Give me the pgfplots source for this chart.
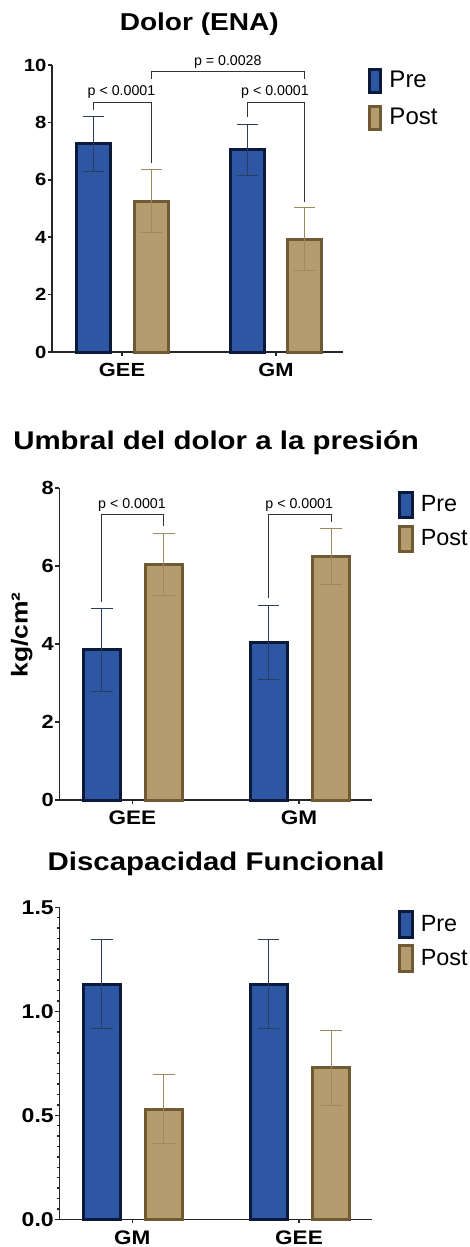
\documentclass[border=0pt]{standalone}
\usepackage{fontspec}
\setmainfont{Liberation Sans}
\newfontfamily\bfw[FakeStretch=1.15]{Liberation Sans Bold}
\usepackage{pgfplots}
\pgfplotsset{compat=1.18}
\definecolor{preF}{HTML}{2E57A3}
\definecolor{preB}{HTML}{0B1A3C}
\definecolor{postF}{HTML}{B59C6F}
\definecolor{postB}{HTML}{6F5A34}
\definecolor{preE}{HTML}{2A3C62}
\definecolor{postE}{HTML}{9E8862}
\definecolor{brk}{HTML}{333333}

\def\legW{5.5pt}\def\legH{5.75pt}\def\legS{0pt}\def\capS{5.25pt}
\pgfplotsset{
  panel/.style={
    scale only axis, clip=false,
    axis x line=bottom, axis y line=left,
    axis line style={-, line width=0.75pt, black!85},
    every tick/.style={line width=0.75pt, black!85},
    tick align=outside, major tick length=2pt, minor tick length=1pt,
    ymin=0,
    legend cell align=left,
    legend style={draw=none, fill=none, inner sep=0pt, outer sep=0pt,
      anchor=north west, column sep=3.5pt,
      nodes={inner sep=0pt}},
  },
  prebar/.style={ybar, bar shift=0pt, fill=preF, draw=preB, line width=1.5pt,
    legend image code/.code={\draw[##1] (0pt,\legS-\legH) rectangle (\legW,\legS+\legH);},
    error bars/.cd, y dir=both, y explicit,
    error bar style={line width=0.5pt, draw=preE},
    error mark options={rotate=90, mark size=\capS, line width=0.5pt, draw=preE}},
  postbar/.style={ybar, bar shift=0pt, fill=postF, draw=postB, line width=1.5pt,
    legend image code/.code={\draw[##1] (0pt,\legS-\legH) rectangle (\legW,\legS+\legH);},
    error bars/.cd, y dir=both, y explicit,
    error bar style={line width=0.5pt, draw=postE},
    error mark options={rotate=90, mark size=\capS, line width=0.5pt, draw=postE}},
}

\begin{document}
\begin{tikzpicture}
\path[use as bounding box] (0,0) rectangle (235pt,-623.5pt);

% ---------------- Panel 1 ----------------
\def\legW{5.5pt}\def\legH{5.75pt}\def\legS{0pt}\def\capS{5.25pt}
\begin{axis}[panel,
  at={(26pt,-176pt)}, anchor=south west,
  width=145.5pt, height=143.5pt,
  xmin=52, xmax=343, ymax=10,
  bar width=17pt,
  ytick={0,2,4,6,8,10}, yticklabels={0,2,4,6,8,10},
  xtick={122,276}, xticklabels={GEE,GM},
  yticklabel style={inner sep=0.6pt, font=\bfw\fontsize{8.8pt}{10pt}\selectfont},
  xticklabel style={font=\bfw\fontsize{9.5pt}{11pt}\selectfont},
  title={Dolor (ENA)},
  title style={at={(axis description cs:0.506,1)}, anchor=base, yshift=11pt,
    font=\bfw\fontsize{12.2pt}{14pt}\selectfont},
  legend style={at={(axis description cs:1.0876,0.99)}, row sep=5.5pt,
    font=\fontsize{12pt}{14pt}\selectfont},
]
\addplot[prebar] coordinates {(93.5,7.25) +- (0,0.97) (247.5,7.04) +- (0,0.88)};
\addplot[postbar] coordinates {(151.5,5.26) +- (0,1.10) (304.5,3.93) +- (0,1.10)};
\legend{Pre,Post}
\draw[brk, line width=0.5pt] (axis cs:93.5,8.43) -- (axis cs:93.5,8.70) -- (axis cs:151.5,8.70) -- (axis cs:151.5,6.57);
\draw[brk, line width=0.5pt] (axis cs:247.5,8.20) -- (axis cs:247.5,8.70) -- (axis cs:304.5,8.70) -- (axis cs:304.5,5.24);
\draw[brk, line width=0.5pt] (axis cs:151.5,9.50) -- (axis cs:151.5,9.78) -- (axis cs:304.5,9.78) -- (axis cs:304.5,9.50);
\node[anchor=base, inner sep=0pt, font=\fontsize{7.1pt}{8pt}\selectfont] at (axis cs:121.5,8.95) {p < 0.0001};
\node[anchor=base, inner sep=0pt, font=\fontsize{7.1pt}{8pt}\selectfont] at (axis cs:275,8.95) {p < 0.0001};
\node[anchor=base, inner sep=0pt, font=\fontsize{7.1pt}{8pt}\selectfont] at (axis cs:227.8,10.0) {p = 0.0028};
\end{axis}

% ---------------- Panel 2 ----------------
\def\legW{6.3pt}\def\legH{6.325pt}\def\legS{0pt}\def\capS{5.4pt}
\begin{axis}[panel,
  at={(29.65pt,-400pt)}, anchor=south west,
  width=156.2pt, height=156pt,
  xmin=59.3, xmax=371.7, ymax=8,
  bar width=18.5pt,
  ytick={0,2,4,6,8}, yticklabels={0,2,4,6,8},
  xtick={132.3,299}, xticklabels={GEE,GM},
  yticklabel style={inner sep=0.6pt, font=\bfw\fontsize{9.5pt}{11pt}\selectfont},
  xticklabel style={font=\bfw\fontsize{9.8pt}{11pt}\selectfont},
  ylabel={kg/cm²},
  ylabel style={at={(axis description cs:-0.1204,0.529)}, anchor=center,
    font=\bfw\fontsize{11.5pt}{13pt}\selectfont},
  title={Umbral del dolor a la presión},
  title style={at={(axis description cs:0.502,1)}, anchor=base, yshift=13.15pt,
    font=\bfw\fontsize{12.8pt}{15pt}\selectfont},
  legend style={at={(axis description cs:1.0848,0.992)}, row sep=2.85pt,
    font=\fontsize{11.7pt}{14pt}\selectfont},
]
\addplot[prebar] coordinates {(101.7,3.85) +- (0,1.06) (268.5,4.04) +- (0,0.96)};
\addplot[postbar] coordinates {(163.8,6.04) +- (0,0.80) (331.2,6.24) +- (0,0.71)};
\legend{Pre,Post}
\draw[brk, line width=0.5pt] (axis cs:101.7,5.08) -- (axis cs:101.7,7.32) -- (axis cs:163.8,7.32) -- (axis cs:163.8,7.03);
\draw[brk, line width=0.5pt] (axis cs:268.5,5.17) -- (axis cs:268.5,7.32) -- (axis cs:331.2,7.32) -- (axis cs:331.2,7.14);
\node[anchor=base, inner sep=0pt, font=\fontsize{7.1pt}{8pt}\selectfont] at (axis cs:132,7.48) {p < 0.0001};
\node[anchor=base, inner sep=0pt, font=\fontsize{7.1pt}{8pt}\selectfont] at (axis cs:299.2,7.48) {p < 0.0001};
\end{axis}

% ---------------- Panel 3 ----------------
\def\legW{6.3pt}\def\legH{6.325pt}\def\legS{0pt}\def\capS{5.4pt}
\begin{axis}[panel,
  at={(29.65pt,-609.65pt)}, anchor=south west,
  width=156.2pt, height=156pt,
  xmin=59.3, xmax=371.7, ymax=1.5,
  bar width=18.5pt,
  ytick={0,0.5,1,1.5}, yticklabels={0.0,0.5,1.0,1.5},
  minor y tick num=9,
  xtick={132.3,299}, xticklabels={GM,GEE},
  yticklabel style={inner sep=0.6pt, font=\bfw\fontsize{10pt}{12pt}\selectfont},
  xticklabel style={font=\bfw\fontsize{9.8pt}{11pt}\selectfont},
  title={Discapacidad Funcional},
  title style={at={(axis description cs:0.502,1)}, anchor=base, yshift=12.65pt,
    font=\bfw\fontsize{12.8pt}{15pt}\selectfont},
  legend style={at={(axis description cs:1.0848,0.99)}, row sep=2.85pt,
    font=\fontsize{11.7pt}{14pt}\selectfont},
]
\addplot[prebar] coordinates {(101.7,1.13) +- (0,0.215) (268.5,1.13) +- (0,0.215)};
\addplot[postbar] coordinates {(163.8,0.529) +- (0,0.165) (331.2,0.729) +- (0,0.18)};
\legend{Pre,Post}
\end{axis}
\end{tikzpicture}
\end{document}
